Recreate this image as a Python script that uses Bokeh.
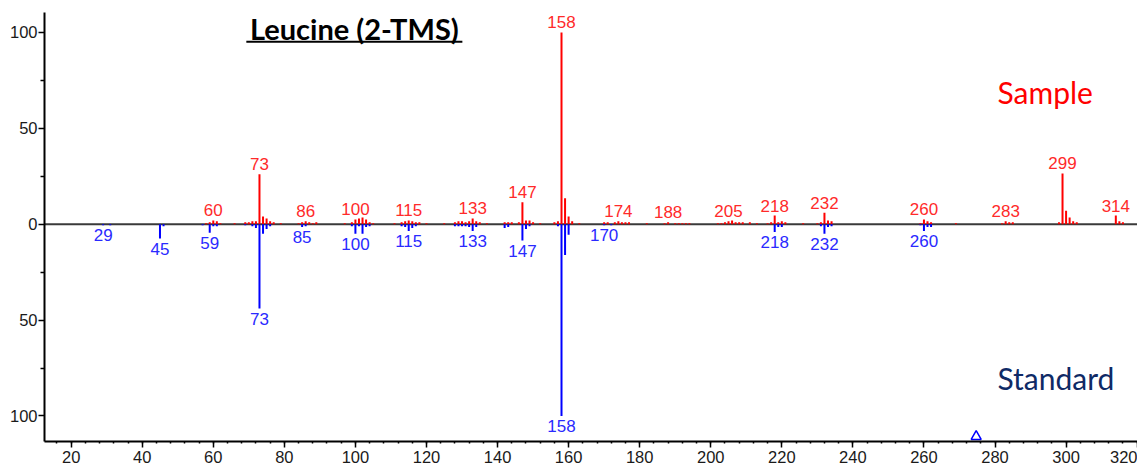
from bokeh.plotting import figure
from bokeh.models import Range1d, FixedTicker, CustomJSTickFormatter, Span, Label, ColumnDataSource
from bokeh.core.properties import value
from bokeh.embed import file_html
from bokeh.resources import INLINE

# ---------------- data ----------------
sample_mz = [58, 59, 60, 61, 62, 66,
             69, 70, 71, 72, 73, 74, 75, 76, 77, 79,
             84, 85, 86, 87, 88, 89,
             97, 99, 100, 101, 102, 103, 104, 105,
             111, 113, 114, 115, 116, 117, 118, 120,
             125, 128, 129, 130, 131, 132, 133, 134, 135, 137,
             142, 143, 144, 146, 147, 148, 149, 150, 152,
             156, 157, 158, 159, 160, 161, 163,
             170, 171, 173, 174, 175, 176, 177, 182,
             187, 188, 190, 191, 192, 193, 194,
             202, 203, 204, 205, 206, 207, 208, 209, 211, 213,
             216, 217, 218, 219, 220, 221, 226,
             230, 231, 232, 233, 234,
             259, 260, 261, 262, 269,
             282, 283, 284, 285,
             298, 299, 300, 301, 302, 303,
             314, 315, 316]
sample_int = [0.5, 1, 2, 1.5, 0.5, 0.5,
              1, 1, 1.5, 1.5, 26, 4, 3, 1.5, 1, 0.5,
              0.5, 1, 1.5, 1, 0.5, 1,
              0.5, 1, 2.5, 3, 3.5, 2.5, 1, 0.5,
              0.5, 1, 1.5, 2, 1.5, 1, 1, 0.5,
              0.5, 1, 1.5, 1.5, 1, 1.5, 3, 1.5, 1, 0.5,
              1, 1, 1, 1, 11.5, 2, 2, 1, 0.5,
              1, 1.5, 100, 13.5, 4, 1.5, 0.5,
              1, 1, 1, 1.5, 1, 1, 1, 0.5,
              0.5, 1, 0.5, 0.5, 0.5, 0.5, 0.5,
              0.5, 0.5, 1, 1.5, 2, 1, 1, 1, 1, 0.5,
              0.5, 1, 4.5, 1, 1.5, 1, 0.5,
              0.5, 1, 6, 2, 1.5,
              0.5, 2.5, 1.5, 1, 0.5,
              0.5, 1.5, 1, 1,
              1, 26.5, 7, 3.5, 1.5, 1,
              4.5, 1.5, 1]

standard_mz = [29, 31, 45, 46, 57, 59, 60, 61,
               69, 71, 72, 73, 74, 75, 76,
               85, 86,
               99, 100, 101, 102, 103, 104,
               113, 114, 115, 116, 117,
               128, 129, 130, 131, 132, 133, 134,
               142, 143, 147, 148, 149,
               157, 158, 159, 160,
               170, 172,
               218, 219, 220,
               231, 232, 233, 234,
               259, 260, 261, 262]
standard_int = [0.5, 0.5, 7.5, 1, 0.5, 4.5, 1, 1,
                0.5, 1, 2, 44, 5, 2.5, 1,
                1.5, 1,
                1, 5, 1, 5, 1.5, 1,
                1, 1.5, 3.5, 2, 1,
                1, 1, 1, 1, 1.5, 3.5, 1.5,
                2, 1.5, 8.5, 2.5, 1,
                1, 100, 16, 5.5,
                0.5, 0.5,
                4, 1.5, 1.5,
                1, 5, 1.5, 1,
                0.5, 3.5, 1.5, 1.5]

sample_labels = [60, 73, 86, 100, 115, 133, 147, 158, 174, 188, 205, 218, 232, 260, 283, 299, 314]
standard_labels = [29, 45, 59, 73, 85, 100, 115, 133, 147, 158, 170, 218, 232, 260]

x_ticks = list(range(20, 321, 20))
x_minor = list(range(12, 324, 4))
y_ticks = [-100, -50, 0, 50, 100]
y_minor = [-75, -25, 25, 75]
marker_mz = [274.7]

title_text = "Leucine (2-TMS)"
sample_text = "Sample"
standard_text = "Standard"

# ---------------- figure ----------------
X0, X1 = 12.5, 320.1
Y0, Y1 = -113.3, 110.4
p = figure(width=1137, height=472, output_backend="svg", toolbar_location=None,
           x_range=Range1d(X0, X1), y_range=Range1d(Y0, Y1),
           min_border_left=44, min_border_right=0, min_border_top=12, min_border_bottom=31)
p.outline_line_color = None
p.xgrid.visible = False
p.ygrid.visible = False
p.background_fill_color = "white"
p.border_fill_color = "white"

for ax in (p.xaxis[0], p.yaxis[0]):
    ax.axis_line_color = "black"
    ax.axis_line_width = 2
    ax.major_tick_line_color = "black"
    ax.major_tick_line_width = 1.5
    ax.minor_tick_line_color = "black"
    ax.minor_tick_line_width = 1.5
    ax.major_tick_in = 0
    ax.major_tick_out = 6
    ax.minor_tick_in = 0
    ax.major_label_text_font = "Liberation Sans"
    ax.major_label_text_font_size = "16.5px"
    ax.major_label_text_color = "#1a1a1a"

p.xaxis[0].ticker = FixedTicker(ticks=x_ticks, minor_ticks=x_minor)
p.xaxis[0].minor_tick_out = 2
p.xaxis[0].major_label_standoff = 3
p.yaxis[0].ticker = FixedTicker(ticks=y_ticks, minor_ticks=y_minor)
p.yaxis[0].minor_tick_out = 4
p.yaxis[0].major_label_standoff = 1
p.yaxis[0].formatter = CustomJSTickFormatter(code="return Math.abs(tick).toString();")

# zero baseline
p.add_layout(Span(location=0, dimension="width", line_color="#3a3a3a", line_width=2, level="underlay"))

# peaks
s_src = ColumnDataSource(dict(mz=sample_mz, h=sample_int))
t_src = ColumnDataSource(dict(mz=standard_mz, h=[-v for v in standard_int]))
p.segment(x0="mz", y0=0, x1="mz", y1="h", source=s_src, line_color="#ff0000", line_width=2)
p.segment(x0="mz", y0=0, x1="mz", y1="h", source=t_src, line_color="#0000ff", line_width=2)

s_lookup = dict(zip(sample_mz, sample_int))
t_lookup = dict(zip(standard_mz, standard_int))
sl_src = ColumnDataSource(dict(x=sample_labels, y=[s_lookup[m] for m in sample_labels],
                               t=[str(m) for m in sample_labels]))
tl_src = ColumnDataSource(dict(x=standard_labels, y=[-t_lookup[m] for m in standard_labels],
                               t=[str(m) for m in standard_labels]))
p.text(x="x", y="y", text="t", source=sl_src, text_color="#ff2a2a", text_align="center",
       text_baseline="middle", y_offset=-10, text_font=value("Liberation Sans"), text_font_size="17px")
p.text(x="x", y="y", text="t", source=tl_src, text_color="#2a2aff", text_align="center",
       text_baseline="middle", y_offset=10, text_font=value("Liberation Sans"), text_font_size="17px")

# marker on axis
p.scatter(x=marker_mz, y=[Y0 + 2.6] * len(marker_mz), marker="triangle", size=10,
          fill_color=None, line_color="#0000ff", line_width=1.5)

# title and annotations
p.add_layout(Label(x=99.7, y=102.3, text=title_text, text_font="Lato", text_font_style="bold",
                   text_font_size="29px", text_align="center", text_baseline="middle",
                   text_color="black"))
p.segment(x0=[69.3], y0=[95.2], x1=[130.1], y1=[95.2], line_color="black", line_width=2)

p.add_layout(Label(x=280.7, y=68.8, text=sample_text, text_font="Lato", text_font_size="30px",
                   text_align="left", text_baseline="middle", text_color="#ff0000"))
p.add_layout(Label(x=280.7, y=-80.3, text=standard_text, text_font="Lato", text_font_size="30px",
                   text_align="left", text_baseline="middle", text_color="#0f2a66"))

open("out.html", "w").write(file_html(p, INLINE))
